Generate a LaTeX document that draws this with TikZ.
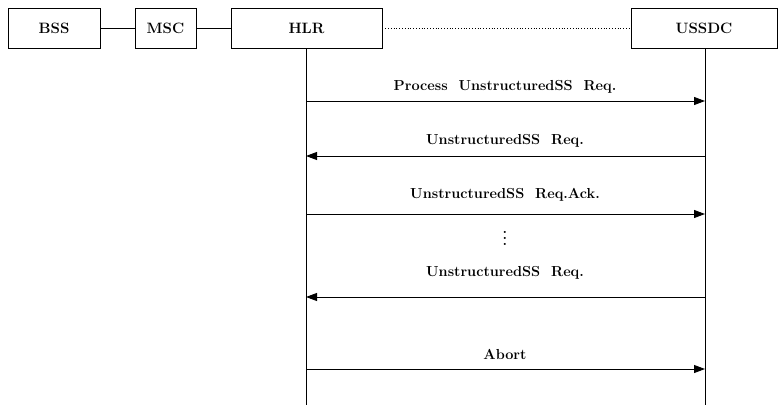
\documentclass[tikz,border=0pt]{standalone}
\usetikzlibrary{arrows.meta}
\newcommand\tdots{\vbox{\baselineskip=6pt\lineskiplimit=-10pt\hbox{.}\hbox{.}\hbox{.}}}
\begin{document}
\begin{tikzpicture}[x=1pt,y=-1pt,
  ent/.style={draw,line width=0.9pt,minimum height=40pt,inner sep=0pt,font=\fontsize{15}{18}\selectfont\bfseries},
  lbl/.style={font=\fontsize{14.5}{17}\selectfont\bfseries,inner sep=0pt},
  msg/.style={line width=0.9pt,-{Triangle[length=11pt,width=8pt]}},
  life/.style={line width=0.9pt}]
\useasboundingbox (0,0) rectangle (778,406);
\node[ent,minimum width=92pt] (bss) at (54,28) {BSS};
\node[ent,minimum width=61pt] (msc) at (165.5,28) {MSC};
\node[ent,minimum width=151pt] (hlr) at (306.5,28) {HLR};
\node[ent,minimum width=146pt] (ussdc) at (704,28) {USSDC};
\draw[line width=0.9pt] (bss) -- (msc);
\draw[line width=0.9pt] (msc) -- (hlr);
\draw[line width=0.8pt,dotted] (hlr) -- (ussdc);
\coordinate (hend) at (306,405);
\coordinate (uend) at (705,405);
\draw[life] (hlr.south -| hend) -- (hend);
\draw[life] (ussdc.south -| uend) -- (uend);
\foreach \n/\y in {1/101,2/156,3/214,4/297,5/369}{
  \coordinate (h\n) at (306,\y);
  \coordinate (u\n) at (705,\y);
}
\draw[msg] (h1) -- (u1);
\draw[msg] (u2) -- (h2);
\draw[msg] (h3) -- (u3);
\draw[msg] (u4) -- (h4);
\draw[msg] (h5) -- (u5);
\node[lbl] (l1) at (505,87) {Process\ \ UnstructuredSS\ \ Req.};
\node[lbl] (l2) at (505,141) {UnstructuredSS\ \ Req.};
\node[lbl] (l3) at (505,195) {UnstructuredSS\ \ Req.Ack.};
\node[lbl] (dots) at (505,238) {\tdots};
\node[lbl] (l4) at (505,273) {UnstructuredSS\ \ Req.};
\node[lbl] (l5) at (505,354) {Abort};
\end{tikzpicture}
\end{document}
